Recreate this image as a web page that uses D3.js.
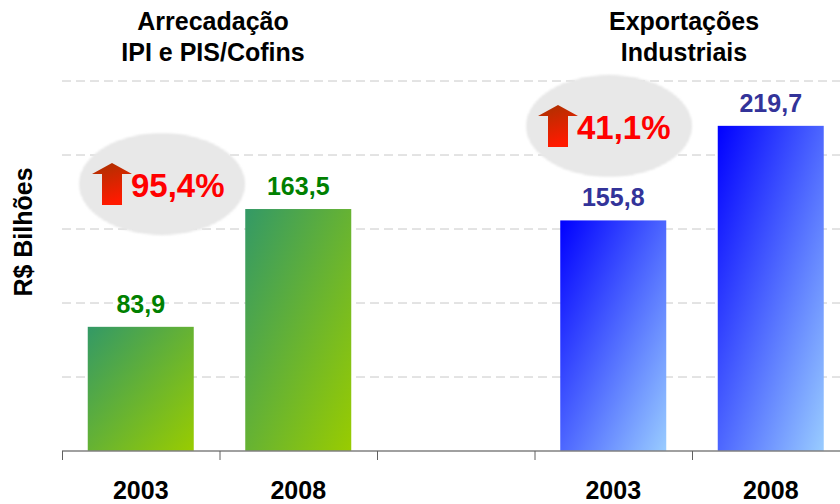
<!DOCTYPE html>
<html>
<head>
<meta charset="utf-8">
<script src="https://cdn.jsdelivr.net/npm/d3@7"></script>
<style>
  body { margin: 0; background: #fff; }
  svg { display: block; font-family: "Liberation Sans", Arial, sans-serif; font-weight: bold; }
</style>
</head>
<body>
<div id="chart"></div>
<script>
// ---------------------------------------------------------------------//
//                                Data                                  //
// ---------------------------------------------------------------------//

var slots = ["a2003", "a2008", "gap", "e2003", "e2008"];
var yearLabels = ["2003", "2008", "", "2003", "2008"];
var values = [83.9, 163.5, null, 155.8, 219.7];
var groupOf = ["green", "green", null, "blue", "blue"];

var groupTitles = [["Arrecadação", "IPI e PIS/Cofins"], ["Exportações", "Industriais"]];
var growthLabels = ["95,4%", "41,1%"];
var yTicks = [50, 100, 150, 200, 250];

// ---------------------------------------------------------------------//
//                              Setup                                   //
// ---------------------------------------------------------------------//

var width = 840, height = 504;

var svg = d3.select("#chart").append("svg")
  .attr("width", width)
  .attr("height", height);

var x = d3.scaleBand()
  .domain(slots)
  .range([62, 849.5])
  .paddingInner(0.327)
  .paddingOuter(0.1635);

var y = d3.scaleLinear()
  .domain([0, 250])
  .range([451, 81]);

var defs = svg.append("defs");

var gGreen = defs.append("linearGradient").attr("id", "gGreen")
  .attr("x1", 0).attr("y1", 0).attr("x2", 1).attr("y2", 1);
gGreen.append("stop").attr("offset", "0%").attr("stop-color", "#339966");
gGreen.append("stop").attr("offset", "100%").attr("stop-color", "#99cc00");

var gBlue = defs.append("linearGradient").attr("id", "gBlue")
  .attr("x1", 0).attr("y1", 0).attr("x2", 1).attr("y2", 1);
gBlue.append("stop").attr("offset", "0%").attr("stop-color", "#0000ff");
gBlue.append("stop").attr("offset", "100%").attr("stop-color", "#99ccff");

var gArrow = defs.append("linearGradient").attr("id", "gArrow")
  .attr("x1", 0).attr("y1", 0).attr("x2", 0.3).attr("y2", 1);
gArrow.append("stop").attr("offset", "0%").attr("stop-color", "#a83200");
gArrow.append("stop").attr("offset", "100%").attr("stop-color", "#ff1a00");

// fine grid texture for the bubbles
var pat = defs.append("pattern").attr("id", "tex")
  .attr("patternUnits", "userSpaceOnUse")
  .attr("width", 3).attr("height", 3);
pat.append("rect").attr("width", 3).attr("height", 3).attr("fill", "#f3f3f3");
pat.append("rect").attr("width", 3).attr("height", 1).attr("fill", "#dcdcdc");
pat.append("rect").attr("width", 1).attr("height", 3).attr("fill", "#e0e0e0");

defs.append("filter").attr("id", "soft")
  .append("feGaussianBlur").attr("stdDeviation", 0.9);

// ---------------------------------------------------------------------//
//                             Gridlines                                //
// ---------------------------------------------------------------------//

svg.append("g").selectAll("line")
  .data(yTicks)
  .enter().append("line")
  .attr("x1", 62).attr("x2", width)
  .attr("y1", function(d) { return y(d); })
  .attr("y2", function(d) { return y(d); })
  .attr("stroke", "#c8c8c8")
  .attr("stroke-width", 1)
  .attr("stroke-dasharray", "9,5");

// ---------------------------------------------------------------------//
//                               Bars                                   //
// ---------------------------------------------------------------------//

var barData = slots.map(function(s, i) {
  return { slot: s, year: yearLabels[i], value: values[i], group: groupOf[i] };
});
var filled = barData.filter(function(d) { return d.value != null; });

svg.append("g").selectAll("rect")
  .data(filled)
  .enter().append("rect")
  .attr("x", function(d) { return x(d.slot); })
  .attr("y", function(d) { return y(d.value); })
  .attr("width", x.bandwidth())
  .attr("height", function(d) { return y(0) - y(d.value); })
  .attr("fill", function(d) { return d.group == "green" ? "url(#gGreen)" : "url(#gBlue)"; });

svg.append("g").selectAll("text")
  .data(filled)
  .enter().append("text")
  .attr("x", function(d) { return x(d.slot) + x.bandwidth() / 2; })
  .attr("y", function(d) { return y(d.value) - 14; })
  .attr("text-anchor", "middle")
  .attr("font-size", 25)
  .attr("fill", function(d) { return d.group == "green" ? "#008000" : "#333399"; })
  .text(function(d) { return d3.format(".1f")(d.value).replace(".", ","); });

// ---------------------------------------------------------------------//
//                               Axis                                   //
// ---------------------------------------------------------------------//

var axis = svg.append("g");
axis.append("line")
  .attr("x1", 62).attr("x2", width)
  .attr("y1", y(0)).attr("y2", y(0))
  .attr("stroke", "#808080").attr("stroke-width", 1.5);

var step = x.step();
axis.selectAll(".tick")
  .data(d3.range(slots.length))
  .enter().append("line")
  .attr("x1", function(i) { return 62.5 + i * step; })
  .attr("x2", function(i) { return 62.5 + i * step; })
  .attr("y1", y(0)).attr("y2", y(0) + 9)
  .attr("stroke", "#606060").attr("stroke-width", 1);

axis.selectAll(".lbl")
  .data(barData)
  .enter().append("text")
  .attr("x", function(d) { return x(d.slot) + x.bandwidth() / 2; })
  .attr("y", 499)
  .attr("text-anchor", "middle")
  .attr("font-size", 25)
  .attr("fill", "#000")
  .text(function(d) { return d.year; });

svg.append("text")
  .attr("transform", "translate(32,232) rotate(-90)")
  .attr("text-anchor", "middle")
  .attr("font-size", 25)
  .attr("fill", "#000")
  .text("R$ Bilhões");

// ---------------------------------------------------------------------//
//                          Group titles                                //
// ---------------------------------------------------------------------//

var titleX = [213, 684];
groupTitles.forEach(function(lines, g) {
  var t = svg.append("text")
    .attr("text-anchor", "middle")
    .attr("font-size", 25)
    .attr("fill", "#000");
  lines.forEach(function(line, k) {
    t.append("tspan")
      .attr("x", titleX[g])
      .attr("y", 30 + k * 31)
      .text(line);
  });
});

// ---------------------------------------------------------------------//
//                          Growth bubbles                              //
// ---------------------------------------------------------------------//

var bubbles = [
  { cx: 162, cy: 184, label: growthLabels[0], ax: 92, ay: 163 },
  { cx: 609, cy: 126, label: growthLabels[1], ax: 538, ay: 105 }
];

bubbles.forEach(function(b) {
  var g = svg.append("g");
  g.append("ellipse")
    .attr("cx", b.cx).attr("cy", b.cy)
    .attr("rx", 83).attr("ry", 51)
    .attr("fill", "url(#tex)")
    .attr("filter", "url(#soft)");

  // arrow up
  var w = 40, h = 42, sw = 20, hh = 11;
  var pts = [
    [b.ax + w / 2, b.ay],
    [b.ax + w, b.ay + hh],
    [b.ax + w / 2 + sw / 2, b.ay + hh],
    [b.ax + w / 2 + sw / 2, b.ay + h],
    [b.ax + w / 2 - sw / 2, b.ay + h],
    [b.ax + w / 2 - sw / 2, b.ay + hh],
    [b.ax, b.ay + hh]
  ];
  g.append("path")
    .attr("d", d3.line()(pts) + "Z")
    .attr("fill", "url(#gArrow)");

  g.append("text")
    .attr("x", b.ax + 39)
    .attr("y", b.ay + 34)
    .attr("font-size", 33)
    .attr("fill", "#ff0000")
    .text(b.label);
});
</script>
</body>
</html>
